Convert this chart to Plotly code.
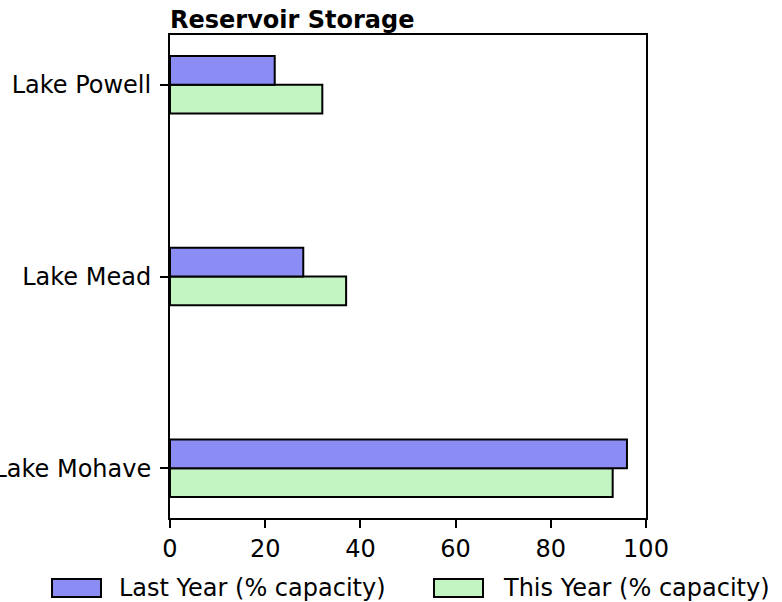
import plotly.graph_objects as go

lakes = ['Lake Mohave', 'Lake Mead', 'Lake Powell']
last_year = [96, 28, 22]
this_year = [93, 37, 32]
series_names = ['Last Year (% capacity)', 'This Year (% capacity)']
series_colors = ['#8c8cf5', '#c2f5c2']

W, H = 782, 602
L, R, T, B = 170, 136, 35, 84
pw, ph = W - L - R, H - T - B


def px_x(x):
    return (x - L) / pw


def px_y(y):
    return (H - B - y) / ph


fig = go.Figure()
# plotly puts the first trace lowest in a horizontal group
fig.add_trace(go.Bar(
    y=lakes, x=this_year, orientation='h', name=series_names[1],
    marker=dict(color=series_colors[1], line=dict(color='black', width=2))
))
fig.add_trace(go.Bar(
    y=lakes, x=last_year, orientation='h', name=series_names[0],
    marker=dict(color=series_colors[0], line=dict(color='black', width=2))
))

# legend drawn by hand so the swatches are wide like the original
legend_x = [(52, 117), (434, 501)]
shapes, annotations = [], []
for (sx, tx), name, col in zip(legend_x, series_names, series_colors):
    shapes.append(dict(type='rect', xref='paper', yref='paper',
                       x0=px_x(sx), x1=px_x(sx + 49), y0=px_y(597), y1=px_y(579),
                       fillcolor=col, line=dict(color='black', width=2)))
    annotations.append(dict(text=name, xref='paper', yref='paper',
                            x=px_x(tx), y=px_y(588), xanchor='left', yanchor='middle',
                            showarrow=False, font=dict(size=24)))

fig.update_layout(
    width=W, height=H,
    barmode='group', bargap=0.7, bargroupgap=0,
    plot_bgcolor='white', paper_bgcolor='white',
    font=dict(family='DejaVu Sans', color='black'),
    margin=dict(l=L, r=R, t=T, b=B),
    title=dict(text='<b>Reservoir Storage</b>', x=L / W, xanchor='left',
               y=1 - 20 / H, yanchor='middle', font=dict(size=24)),
    showlegend=False,
    shapes=shapes, annotations=annotations,
)
fig.update_xaxes(range=[0, 100], tickvals=[0, 20, 40, 60, 80, 100],
                 showgrid=False, zeroline=False, showline=True, linecolor='black',
                 linewidth=2, mirror=True, ticks='outside', ticklen=8,
                 tickcolor='black', tickwidth=1.5, tickfont=dict(size=24),
                 automargin=False)
fig.update_yaxes(range=[-0.26, 2.26], showgrid=False, zeroline=False,
                 showline=True, linecolor='black', linewidth=2, mirror=True,
                 ticks='outside', ticklen=8, tickcolor='black', tickwidth=1.5,
                 tickfont=dict(size=24), ticklabelstandoff=4, automargin=False)

fig.write_html('out.html', config={'displayModeBar': False},
               post_script="document.body.style.margin='0';")
